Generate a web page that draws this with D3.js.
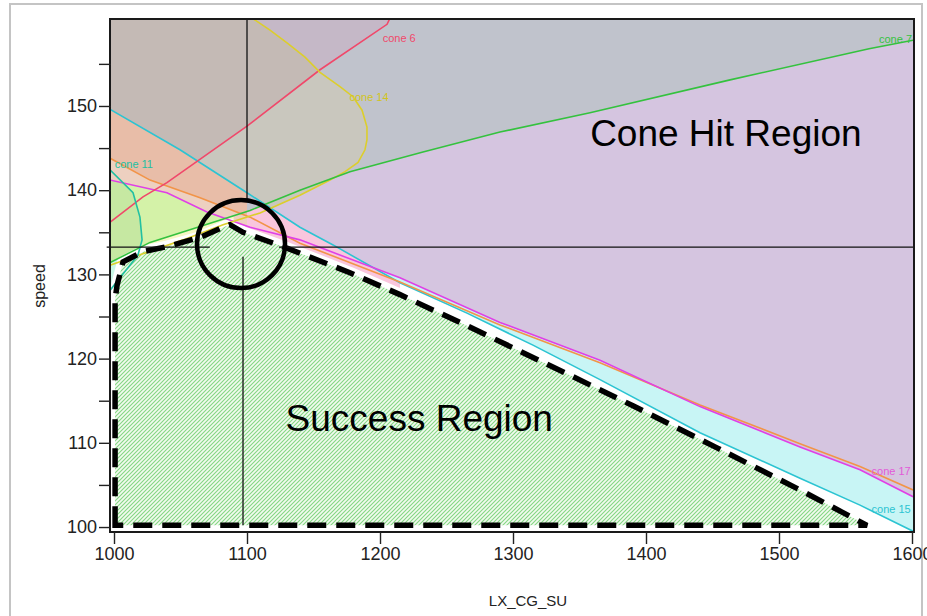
<!DOCTYPE html>
<html>
<head>
<meta charset="utf-8">
<script src="https://cdn.jsdelivr.net/npm/d3@7"></script>
<style>
  body { margin: 0; background: #fff; }
  svg { display: block; font-family: "Liberation Sans", Arial, sans-serif; }
</style>
</head>
<body>
<script>
// Cone boundaries, [LX_CG_SU, speed]
const cone15 = [[997, 149.6], [1049.6, 144.8], [1100, 139.7], [1139.8, 135.6], [1164.7, 133.5], [1215, 129.0],
  [1265.4, 125.4], [1315, 121.6], [1365.4, 117.5], [1440.6, 111.2], [1515.8, 105.8], [1560.9, 102.6], [1600.8, 99.5]];
const cone17 = [[997, 143.8], [1027.1, 141.2], [1064.7, 139.1], [1102.3, 136.8], [1139.8, 133.7], [1215, 129.1],
  [1290.2, 124.0], [1365.4, 119.5], [1440.6, 114.5], [1515.8, 109.9], [1560.9, 107.2], [1600.8, 104.4]];
const coneMag = [[997, 141.2], [1039.8, 139.7], [1069.9, 137.4], [1102.3, 135.6], [1139.8, 134.1], [1215, 129.6],
  [1290.2, 124.3], [1365.4, 119.8], [1440.6, 114.3], [1515.8, 109.5], [1560.9, 106.8], [1600.8, 103.6]];
const cone6 = [[997, 136.2], [1021.8, 139.2], [1039.8, 140.9], [1100, 147.6], [1154.9, 154.3], [1205.3, 159.7], [1208, 160.6]];
const cone7 = [[997, 131.4], [1027.1, 133.8], [1064.7, 135.7], [1102.3, 137.6], [1139.8, 140.0], [1177.4, 142.2],
  [1231.6, 144.5], [1290.2, 146.9], [1357.9, 149.2], [1463.2, 153.1], [1567.7, 156.8], [1600.8, 157.8]];
const cone14 = [[1102.3, 160.6], [1117.3, 159.0], [1130.1, 157.5], [1143.6, 155.8], [1154.9, 154.0], [1169.9, 152.3],
  [1179.7, 151.1], [1186.5, 149.5], [1190.2, 147.5], [1190.2, 146.0], [1188.7, 144.8], [1183.5, 143.3],
  [1173.7, 142.2], [1162.4, 141.2], [1139.8, 139.4], [1109.8, 137.3], [1082, 135.9], [1051.9, 134.1], [997, 131.1]];
const cone11 = [[997, 142.4], [1014.3, 139.7], [1019.5, 136.8], [1021.1, 134.1], [1018, 132.3], [1010.5, 130.8],
  [1003, 129.3], [997, 128.1]];

// Success region outline
const success = [[1000.8, 100.2], [1000.8, 127.0], [1002.3, 128.7], [1006.8, 131.5], [1021.8, 132.7], [1039.8, 133.3],
  [1064.7, 134.4], [1082, 135.6], [1087.2, 135.9], [1097, 135.0], [1127.1, 133.3], [1177.4, 130.2], [1215, 127.6],
  [1265.4, 123.9], [1340.6, 118.2], [1390.2, 114.4], [1453.4, 109.4], [1515.8, 104.4], [1566.2, 100.2]];

// Crosshair and marker
const crossX = 1100, crossXLow = 1097, crossY = 133.25;
const marker = [1095.5, 133.6];

// Ticks
const xTicks = [1000, 1100, 1200, 1300, 1400, 1500, 1600];
const yTicks = [100, 110, 120, 130, 140, 150];
const yMinorTicks = [105, 115, 125, 135, 145, 155];

// Layout
const width = 927, height = 616;
const X0 = 997.74, X1 = 1600.75, Y0 = 99.41, Y1 = 160.21;
const xLo = X0 - 10, xHi = X1 + 10, yLo = Y0 - 5, yHi = Y1 + 5;

const svg = d3.select("body").append("svg")
  .attr("width", width)
  .attr("height", height);
const defs = svg.append("defs");

const x = d3.scaleLinear().domain([X0, X1]).range([111, 913]);
const y = d3.scaleLinear().domain([Y0, Y1]).range([532, 20]);
const line = d3.line().x(d => x(d[0])).y(d => y(d[1]));
const closed = pts => line(pts) + "Z";

// outer panel border
svg.append("rect")
  .attr("x", 10).attr("y", 4).attr("width", 912).attr("height", 640)
  .attr("fill", "none").attr("stroke", "#c4c4c4").attr("stroke-width", 2);

// Polygons
const above = l => l.concat([[xHi, yHi], [xLo, yHi]]);
const below = l => l.concat([[xHi, yLo], [xLo, yLo]]);
const band = (a, b) => a.concat(b.slice().reverse());
const xRange = (a, b) => [[a, yLo], [b, yLo], [b, yHi], [a, yHi]];

const aboveCyan = above(cone15);
const aboveMag = above(coneMag);
const aboveGreen = above(cone7);
const belowGreen = below(cone7);
const aboveRed = cone6.concat([[xLo, yHi]]);
const insideYellow = cone14.concat([[xLo, 131.1], [xLo, yHi]]);
const insideTeal = cone11.concat([[xLo, 128.1], [xLo, 142.4]]);
const aboveSuccess = [[xLo, 127]].concat(success.slice(1), [[xHi, 99], [xHi, yHi], [xLo, yHi]]);
const yellowLow = cone14.slice(13).reverse();

let clipCount = 0;
const clipped = (parent, poly) => {
  const id = "clip" + (clipCount++);
  defs.append("clipPath").attr("id", id).append("path").attr("d", closed(poly));
  return parent.append("g").attr("clip-path", `url(#${id})`);
};
const fill = (parent, poly, color) => parent.append("path").attr("d", closed(poly)).attr("fill", color);

defs.append("clipPath").attr("id", "plotClip").append("rect")
  .attr("x", 111).attr("y", 20).attr("width", 802).attr("height", 512);
const plot = svg.append("g").attr("clip-path", "url(#plotClip)");

// Regions
plot.append("rect").attr("x", 111).attr("y", 20).attr("width", 802).attr("height", 512).attr("fill", "#fff");
fill(clipped(plot, xRange(1075, 1215)), aboveSuccess, "#f9c6dd");
fill(plot, aboveCyan, "#c8f5f5");
fill(clipped(plot, aboveCyan), aboveMag, "#d5c5e0");
fill(plot, aboveGreen, "#c0c3cc");
fill(clipped(plot, xRange(xLo, 1100)), band(cone15, cone17), "#e8bda8");
fill(clipped(plot, xRange(xLo, 1100)), band(cone17, coneMag), "#edd0c0");
fill(clipped(plot, xRange(xLo, 1082)), band(coneMag, cone7), "#d4f2a8");
fill(clipped(plot, xRange(xLo, 1090)), band(cone7, yellowLow), "#f7f7c4");
fill(clipped(plot, insideTeal), belowGreen, "#c8f7e6");
fill(clipped(plot, insideTeal), band(coneMag, cone7), "#c6e8a2");
fill(clipped(plot, insideYellow), aboveCyan, "#c9c7be");
fill(clipped(plot, aboveCyan), aboveRed, "#c5b8c7");
fill(clipped(clipped(plot, insideYellow), aboveCyan), aboveRed, "#c4bab5");

// Success region hatch
const hatch = defs.append("pattern").attr("id", "hatch")
  .attr("patternUnits", "userSpaceOnUse").attr("width", 4).attr("height", 4);
hatch.append("rect").attr("width", 4).attr("height", 4).attr("fill", "#f2fbef");
hatch.append("path").attr("d", "M0,4 L4,0 M-1,1 L1,-1 M3,5 L5,3")
  .attr("stroke", "#84d684").attr("stroke-width", 1.1);

plot.append("path").attr("d", closed(success))
  .attr("fill", "none").attr("stroke", "#fff").attr("stroke-width", 12).attr("stroke-linejoin", "round");
plot.append("path").attr("d", closed(success)).attr("fill", "url(#hatch)");

// Cone lines
const lines = [
  { pts: cone15, color: "#2cc4d2" },
  { pts: cone17, color: "#f29448" },
  { pts: coneMag, color: "#e040e6" },
  { pts: cone6, color: "#f0486a" },
  { pts: cone14, color: "#dcce2c" },
  { pts: cone7, color: "#34c23e" },
  { pts: cone11, color: "#22c0a2" }
];
plot.selectAll(".cone").data(lines).join("path")
  .attr("class", "cone")
  .attr("d", d => line(d.pts))
  .attr("fill", "none")
  .attr("stroke", d => d.color)
  .attr("stroke-width", 1.6);

// Crosshair
const hair = [
  [[crossX, Y1], [crossX, 138.8]],
  [[crossXLow, 132.1], [crossXLow, 100.2]],
  [[994.5, crossY], [1072, crossY]],
  [[1124, crossY], [X1, crossY]]
];
svg.selectAll(".hair").data(hair).join("path")
  .attr("class", "hair")
  .attr("d", d => line(d))
  .attr("stroke", "#111").attr("stroke-width", 1.3);

// Success outline
plot.append("path").attr("d", closed(success))
  .attr("fill", "none").attr("stroke", "#000").attr("stroke-width", 5.5)
  .attr("stroke-dasharray", "19,10");

// Marker circle
svg.append("circle")
  .attr("cx", x(marker[0])).attr("cy", y(marker[1])).attr("r", 44)
  .attr("fill", "none").attr("stroke", "#000").attr("stroke-width", 4.5);

// Cone labels
const coneLabels = [
  { text: "cone 6", at: [1202, 157.6], color: "#f0486a", anchor: "start" },
  { text: "cone 14", at: [1177, 150.6], color: "#d2c41c", anchor: "start" },
  { text: "cone 7", at: [1600, 157.5], color: "#34c23e", anchor: "end" },
  { text: "cone 11", at: [1000.5, 142.6], color: "#22c0a2", anchor: "start" },
  { text: "cone 17", at: [1599, 106.2], color: "#e25ad8", anchor: "end" },
  { text: "cone 15", at: [1599, 101.7], color: "#2cc4d2", anchor: "end" }
];
svg.selectAll(".conelabel").data(coneLabels).join("text")
  .attr("class", "conelabel")
  .attr("x", d => x(d.at[0])).attr("y", d => y(d.at[1]))
  .attr("text-anchor", d => d.anchor)
  .attr("fill", d => d.color)
  .attr("font-size", 11)
  .text(d => d.text);

// Region titles
svg.append("text").attr("x", x(1358)).attr("y", y(145.3))
  .attr("font-size", 37).attr("fill", "#000").text("Cone Hit Region");
svg.append("text").attr("x", x(1129)).attr("y", y(111.4))
  .attr("font-size", 37).attr("fill", "#000").text("Success Region");

// Frame
svg.append("rect").attr("x", 110).attr("y", 19).attr("width", 804).attr("height", 513)
  .attr("fill", "none").attr("stroke", "#1a1a1a").attr("stroke-width", 2);

// Axes
const xAxis = svg.append("g").attr("transform", "translate(0,532)")
  .call(d3.axisBottom(x).tickValues(xTicks).tickSize(12).tickPadding(3).tickFormat(d3.format("d")));
const yAxis = svg.append("g").attr("transform", "translate(111,0)")
  .call(d3.axisLeft(y).tickValues(yTicks).tickSize(12).tickPadding(2).tickFormat(d3.format("d")));
const yMinor = svg.append("g").attr("transform", "translate(111,0)")
  .call(d3.axisLeft(y).tickValues(yMinorTicks).tickSize(12).tickFormat(""));
[xAxis, yAxis, yMinor].forEach(g => {
  g.select(".domain").remove();
  g.selectAll("line").attr("stroke", "#222").attr("stroke-width", 1.4);
  g.selectAll("text").attr("font-size", 18).attr("fill", "#222")
    .attr("font-family", "'Liberation Sans', Arial, sans-serif");
});

// Axis titles
svg.append("text").attr("x", 528).attr("y", 606).attr("text-anchor", "middle")
  .attr("font-size", 15).attr("fill", "#222").text("LX_CG_SU");
svg.append("text").attr("transform", "translate(45,286) rotate(-90)").attr("text-anchor", "middle")
  .attr("font-size", 16).attr("fill", "#222").text("speed");
</script>
</body>
</html>
